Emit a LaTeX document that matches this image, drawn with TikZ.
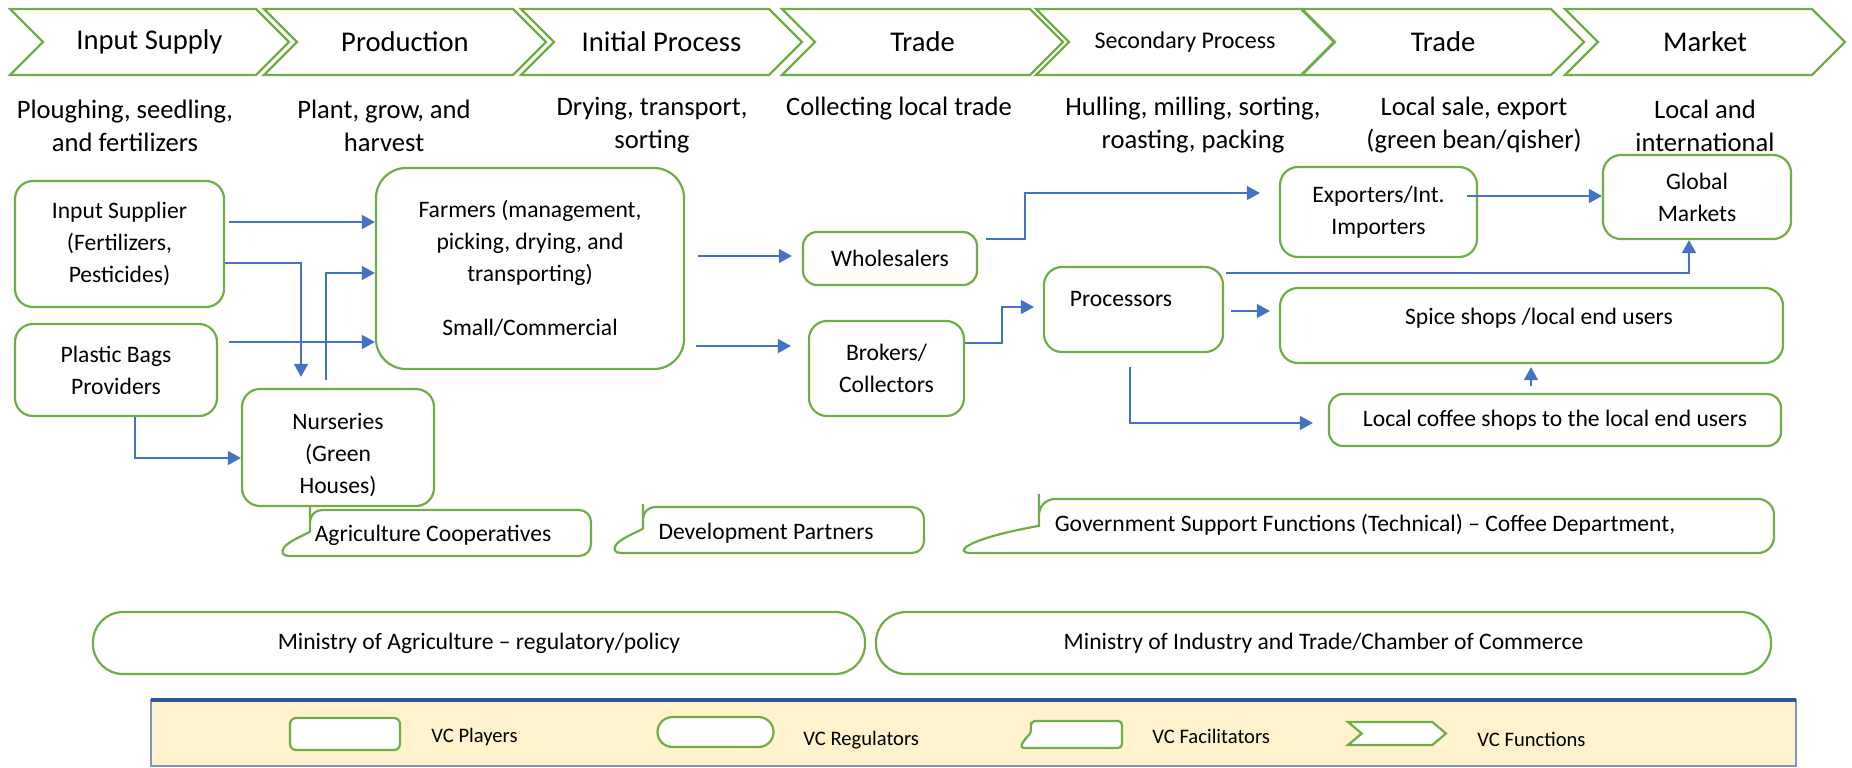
\documentclass[tikz,border=0pt]{standalone}
\usepackage{fontspec}
\setmainfont{Carlito}
\usetikzlibrary{shapes.symbols,arrows.meta}

\definecolor{vcgreen}{HTML}{70AD47}
\definecolor{vcblue}{HTML}{4472C4}
\definecolor{keyfill}{HTML}{FFF2CC}
\definecolor{keyline}{HTML}{2F5597}
\definecolor{keyside}{HTML}{7F96BD}

\newcommand\funcfont{\fontsize{14.3}{17}\selectfont}
\newcommand\descfont{\fontsize{13.3}{16.5}\selectfont}
\newcommand\boxfont{\fontsize{11.8}{16}\selectfont}
\newcommand\keyfont{\fontsize{10.3}{12}\selectfont}

\tikzset{
	player/.style={draw=vcgreen, line width=1.1pt, rounded corners=9pt, inner sep=0pt, align=center, font=\boxfont},
	regulator/.style={draw=vcgreen, line width=1.1pt, rounded corners=15pt, inner sep=0pt, font=\boxfont},
	facil/.style={draw=vcgreen, line width=1.1pt, rounded corners=6pt},
	vcfunc/.style={shape=signal, signal from=west, signal to=east, signal pointer angle=90, draw=vcgreen, line width=1.1pt, inner sep=0pt, font=\funcfont},
	flow/.style={draw=vcblue, line width=0.75pt, -{Triangle[length=6.5pt,width=7pt]}},
	boxtext/.style={font=\boxfont, align=center, inner sep=0pt},
	keytext/.style={font=\keyfont, anchor=west, inner sep=0pt},
}

% facilitator outline: [options] top-left x, bottom-left x, top y, bottom y, right x
\newcommand\facilshape[6][]{%
	\draw[facil,#1] (#3,#5) .. controls ({#3+0.4*(#2-#3)},{#5-0.35*(#5-#4)}) and (#2,{#4+0.5*(#5-#4)}) .. (#2,{#4+0.2*(#5-#4)}) -- (#2,#4) -- (#6,#4) -- (#6,#5) -- cycle;}

\begin{document}
\begin{tikzpicture}[x=0.5pt, y=-0.5pt]
	\useasboundingbox (0,0) rectangle (1852,767);

	% functions along the chain
	\foreach \cx/\w/\nm/\txt in {149.5/139.5/supply/Input Supply, 405/141/prod/Production, 661.5/140.5/initp/Initial Process, 922.5/140.5/tradea/Trade, 1185/149/secp/{\fontsize{12}{14}\selectfont Secondary Process}, 1443/141/tradeb/Trade, 1705/140/market/Market}
		\node[vcfunc, minimum width=\w pt, minimum height=33pt] (\nm) at (\cx,42) {\txt};

	\foreach \cx/\cy/\nm/\txt in {125/125.5/dsupply/{Ploughing, seedling,\\and fertilizers}, 384/125.5/dprod/{Plant, grow, and\\harvest}, 652/125.5/dinitp/{Drying, transport,\\sorting}, 899/109/dtradea/{Collecting local trade}, 1193/125.5/dsecp/{Hulling, milling, sorting,\\roasting, packing}, 1474/125.5/dtradeb/{Local sale, export\\(green bean/qisher)}, 1705/125.5/dmarket/{Local and\\international}}
		\node[font=\descfont, align=center, inner sep=0pt] (\nm) at (\cx,\cy) {\txt};

	% players
	\node[player, minimum width=104.5pt, minimum height=63pt] (insup) at (119.5,244) {Input Supplier\\(Fertilizers,\\Pesticides)};
	\node[player, minimum width=101pt, minimum height=46pt] (plastic) at (116,370) {Plastic Bags\\Providers};
	\node[player, minimum width=96pt, minimum height=58.5pt, label={[boxtext, yshift=-4pt]center:Nurseries\\(Green\\Houses)}] (nursery) at (338,447.5) {};
	\node[player, minimum width=154pt, minimum height=100.5pt, rounded corners=15pt] (farmers) at (530,268.5) {Farmers (management,\\picking, drying, and\\transporting)\\[11pt]Small/Commercial};
	\node[player, minimum width=87pt, minimum height=26.5pt, rounded corners=7pt] (whole) at (890,258.5) {Wholesalers};
	\node[player, minimum width=77.5pt, minimum height=47.5pt] (brokers) at (886.5,368.5) {Brokers/\\Collectors};
	\node[player, minimum width=89.5pt, minimum height=42.5pt, label={[boxtext, xshift=-6.25pt, yshift=5.25pt]center:Processors}] (proc) at (1133.5,309.5) {};
	\node[player, minimum width=98.5pt, minimum height=45pt] (export) at (1378.5,212) {Exporters/Int.\\Importers};
	\node[player, minimum width=94pt, minimum height=42pt] (global) at (1697,197) {Global\\Markets};
	\node[player, minimum width=251.5pt, minimum height=37.5pt, label={[boxtext, xshift=3.75pt, yshift=3.75pt]center:Spice shops /local end users}] (spice) at (1531.5,325.5) {};
	\node[player, minimum width=226pt, minimum height=26pt, rounded corners=7pt] (coffee) at (1555,420) {Local coffee shops to the local end users};

	% flows
	\draw[flow, shorten <=2pt] (insup.east |- 0,222) -- (farmers.west |- 0,222);
	\draw[flow, shorten >=5.5pt] (insup.east |- 0,263) -| (nursery.north -| 301,0);
	\draw[flow, shorten <=4pt] (nursery.north -| 326,0) |- (farmers.west |- 0,273);
	\draw[flow, shorten <=5.5pt] (plastic.east |- 0,342) -- (farmers.west |- 0,342);
	\draw[flow] (plastic.south -| 135,0) |- (nursery.west |- 0,458);
	\draw[flow, shorten <=6.5pt, shorten >=5pt] (farmers.east |- 0,256) -- (whole.west |- 0,256);
	\draw[flow, shorten <=5.5pt, shorten >=8.5pt] (farmers.east |- 0,346) -- (brokers.west |- 0,346);
	\draw[flow, shorten <=4pt, shorten >=9.5pt] (whole.east |- 0,239) -- ++(47,0) |- (export.west |- 0,193);
	\draw[flow, shorten >=4.5pt] (brokers.east |- 0,343) -- ++(37,0) |- (proc.west |- 0,307);
	\draw[flow, shorten <=1pt] (proc.east |- 0,273) -| (global.south -| 1689,0);
	\draw[flow, shorten <=3.5pt, shorten >=4.5pt] (proc.east |- 0,311) -- (spice.west |- 0,311);
	\draw[flow, shorten <=7pt, shorten >=7.5pt] (proc.south -| 1130,0) |- (coffee.west |- 0,423);
	\draw[flow, shorten <=3.5pt, shorten >=1.5pt] (coffee.north -| 1531,0) -- (spice.south -| 1531,0);
	\draw[flow, shorten <=-5.5pt] (export.east |- 0,196) -- (global.west |- 0,196);

	% facilitators
	\facilshape{310}{277}{510}{556}{591}
	\node[boxtext] (coop) at (433,535) {Agriculture Cooperatives};
	\facilshape{643}{609}{507}{553}{924}
	\node[boxtext] (devpart) at (766,533) {Development Partners};
	\facilshape[rounded corners=8pt]{1039}{955}{499}{553}{1774}
	\node[boxtext] (govsup) at (1365,525) {Government Support Functions (Technical) – Coffee Department,};

	% regulators
	\node[regulator, minimum width=386pt, minimum height=31pt] (moa) at (479,643) {Ministry of Agriculture – regulatory/policy};
	\node[regulator, minimum width=447.5pt, minimum height=31pt] (moit) at (1323.5,643) {Ministry of Industry and Trade/Chamber of Commerce};

	% key
	\draw[keyside, fill=keyfill, line width=0.8pt] (151,700) rectangle (1796,766);
	\draw[keyline, line width=1.6pt] (151,700) -- (1796,700);
	\node[player, fill=white, minimum width=55pt, minimum height=16pt, rounded corners=3pt] (keyplay) at (345,734) {};
	\node[keytext] (keyplaytxt) at (431,737) {VC Players};
	\node[regulator, fill=white, minimum width=58pt, minimum height=15pt, rounded corners=7.5pt] (keyreg) at (715.5,732) {};
	\node[keytext] (keyregtxt) at (803,740) {VC Regulators};
	\facilshape[rounded corners=2pt, fill=white]{1031}{1020}{721}{748}{1122}
	\node[keytext] (keyfaciltxt) at (1152,736) {VC Facilitators};
	\node[vcfunc, fill=white, minimum width=49pt, minimum height=11.5pt, signal pointer angle=80] (keyfunc) at (1397,733.5) {};
	\node[keytext] (keyfunctxt) at (1477,739) {VC Functions};
\end{tikzpicture}
\end{document}
